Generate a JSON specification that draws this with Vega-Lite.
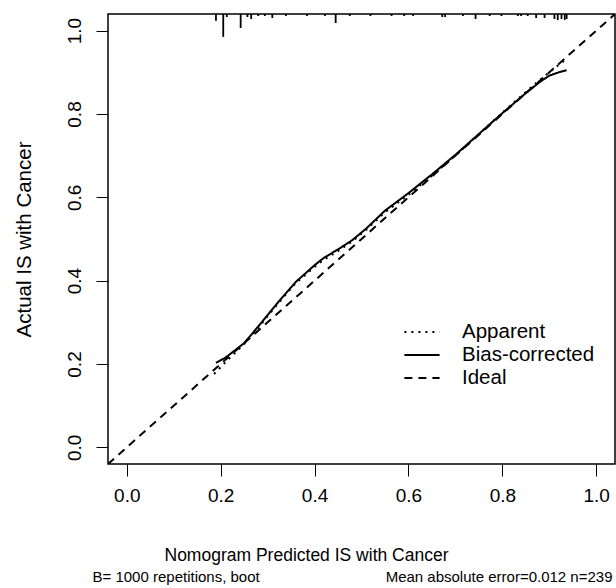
{
  "$schema": "https://vega.github.io/schema/vega-lite/v6.json",
  "width": 507,
  "height": 450,
  "autosize": {"type": "none"},
  "padding": {"left": 108, "top": 14, "right": 1, "bottom": 124},
  "background": "white",
  "config": {
    "font": "Liberation Sans",
    "view": {"stroke": "black", "strokeWidth": 1.5},
    "axis": {"grid": false, "domain": false, "labelColor": "black", "titleColor": "black", "titleFontWeight": "normal", "tickColor": "black", "labelFont": "Liberation Sans", "titleFont": "Liberation Sans"}
  },
  "datasets": {
    "curves": [
      {"x": -0.04, "y": -0.04, "series": "Ideal"},
      {"x": 1.04, "y": 1.04, "series": "Ideal"},
      {"x": 0.186, "y": 0.176, "series": "Apparent"},
      {"x": 0.21, "y": 0.204, "series": "Apparent"},
      {"x": 0.25, "y": 0.248, "series": "Apparent"},
      {"x": 0.28, "y": 0.287, "series": "Apparent"},
      {"x": 0.32, "y": 0.342, "series": "Apparent"},
      {"x": 0.36, "y": 0.394, "series": "Apparent"},
      {"x": 0.40, "y": 0.433, "series": "Apparent"},
      {"x": 0.42, "y": 0.450, "series": "Apparent"},
      {"x": 0.45, "y": 0.471, "series": "Apparent"},
      {"x": 0.48, "y": 0.494, "series": "Apparent"},
      {"x": 0.51, "y": 0.522, "series": "Apparent"},
      {"x": 0.55, "y": 0.564, "series": "Apparent"},
      {"x": 0.60, "y": 0.606, "series": "Apparent"},
      {"x": 0.65, "y": 0.652, "series": "Apparent"},
      {"x": 0.70, "y": 0.700, "series": "Apparent"},
      {"x": 0.75, "y": 0.752, "series": "Apparent"},
      {"x": 0.80, "y": 0.803, "series": "Apparent"},
      {"x": 0.85, "y": 0.853, "series": "Apparent"},
      {"x": 0.88, "y": 0.882, "series": "Apparent"},
      {"x": 0.90, "y": 0.900, "series": "Apparent"},
      {"x": 0.92, "y": 0.918, "series": "Apparent"},
      {"x": 0.937, "y": 0.932, "series": "Apparent"},
      {"x": 0.19, "y": 0.203, "series": "Bias-corrected"},
      {"x": 0.21, "y": 0.215, "series": "Bias-corrected"},
      {"x": 0.25, "y": 0.250, "series": "Bias-corrected"},
      {"x": 0.28, "y": 0.290, "series": "Bias-corrected"},
      {"x": 0.32, "y": 0.345, "series": "Bias-corrected"},
      {"x": 0.36, "y": 0.397, "series": "Bias-corrected"},
      {"x": 0.40, "y": 0.437, "series": "Bias-corrected"},
      {"x": 0.42, "y": 0.455, "series": "Bias-corrected"},
      {"x": 0.45, "y": 0.475, "series": "Bias-corrected"},
      {"x": 0.48, "y": 0.497, "series": "Bias-corrected"},
      {"x": 0.51, "y": 0.525, "series": "Bias-corrected"},
      {"x": 0.55, "y": 0.568, "series": "Bias-corrected"},
      {"x": 0.60, "y": 0.610, "series": "Bias-corrected"},
      {"x": 0.65, "y": 0.655, "series": "Bias-corrected"},
      {"x": 0.70, "y": 0.702, "series": "Bias-corrected"},
      {"x": 0.75, "y": 0.752, "series": "Bias-corrected"},
      {"x": 0.80, "y": 0.802, "series": "Bias-corrected"},
      {"x": 0.85, "y": 0.850, "series": "Bias-corrected"},
      {"x": 0.88, "y": 0.877, "series": "Bias-corrected"},
      {"x": 0.90, "y": 0.892, "series": "Bias-corrected"},
      {"x": 0.92, "y": 0.900, "series": "Bias-corrected"},
      {"x": 0.937, "y": 0.905, "series": "Bias-corrected"}
    ],
    "rug": [
      {"x": 0.190, "yend": 1.024},
      {"x": 0.2055, "yend": 0.985},
      {"x": 0.213, "yend": 1.0328},
      {"x": 0.2426, "yend": 1.0065},
      {"x": 0.257, "yend": 1.0328},
      {"x": 0.265, "yend": 1.028},
      {"x": 0.280, "yend": 1.0352},
      {"x": 0.294, "yend": 1.0352},
      {"x": 0.310, "yend": 1.0304},
      {"x": 0.339, "yend": 1.0352},
      {"x": 0.384, "yend": 1.0352},
      {"x": 0.422, "yend": 1.0352},
      {"x": 0.445, "yend": 1.0184},
      {"x": 0.475, "yend": 1.0352},
      {"x": 0.519, "yend": 1.0352},
      {"x": 0.564, "yend": 1.0352},
      {"x": 0.591, "yend": 1.0352},
      {"x": 0.610, "yend": 1.0352},
      {"x": 0.672, "yend": 1.0328},
      {"x": 0.678, "yend": 1.0328},
      {"x": 0.716, "yend": 1.0352},
      {"x": 0.743, "yend": 1.028},
      {"x": 0.773, "yend": 1.0352},
      {"x": 0.798, "yend": 1.0352},
      {"x": 0.833, "yend": 1.0352},
      {"x": 0.840, "yend": 1.0352},
      {"x": 0.854, "yend": 1.0352},
      {"x": 0.872, "yend": 1.0304},
      {"x": 0.890, "yend": 1.0304},
      {"x": 0.911, "yend": 1.028},
      {"x": 0.918, "yend": 1.0256},
      {"x": 0.926, "yend": 1.028},
      {"x": 0.933, "yend": 1.0256},
      {"x": 0.937, "yend": 1.028}
    ]
  },
  "resolve": {"axis": {"x": "independent", "y": "independent"}},
  "layer": [
    {
      "data": {"name": "curves"},
      "mark": {"type": "line", "strokeWidth": 2, "color": "black", "clip": true},
      "encoding": {
        "x": {
          "field": "x", "type": "quantitative",
          "scale": {"domain": [-0.04, 1.04], "nice": false, "zero": false},
          "axis": {
            "values": [0, 0.2, 0.4, 0.6, 0.8, 1.0], "format": ".1f",
            "tickSize": 12, "tickWidth": 1, "labelFontSize": 19, "labelPadding": 10,
            "title": "Nomogram Predicted IS with Cancer", "titleFontSize": 17.5,
            "titleX": 198, "titleY": 96, "titleAlign": "center", "titleBaseline": "alphabetic"
          }
        },
        "y": {
          "field": "y", "type": "quantitative",
          "scale": {"domain": [-0.04, 1.04], "nice": false, "zero": false},
          "axis": {
            "values": [0, 0.2, 0.4, 0.6, 0.8, 1.0], "format": ".1f",
            "tickSize": 12, "tickWidth": 1, "labelFontSize": 19, "labelPadding": 12,
            "labelAngle": 270, "labelAlign": "center", "labelBaseline": "bottom",
            "title": "Actual IS with Cancer", "titleFontSize": 20.5,
            "titleAngle": 270, "titleX": -84, "titleY": 225, "titleAlign": "center", "titleBaseline": "middle"
          }
        },
        "strokeDash": {
          "field": "series", "type": "nominal",
          "scale": {"domain": ["Apparent", "Bias-corrected", "Ideal"], "range": [[2, 5], [1, 0], [8, 6]]},
          "legend": {
            "title": null, "orient": "none", "legendX": 302, "legendY": 306,
            "symbolType": "M-1.6,0L1.6,0", "symbolSize": 484, "symbolStrokeWidth": 2,
            "symbolStrokeColor": "black", "labelFontSize": 20.5, "labelColor": "black",
            "labelOffset": 28, "rowPadding": -2
          }
        }
      }
    },
    {
      "data": {"name": "rug"},
      "mark": {"type": "rule", "strokeWidth": 1.8, "color": "black"},
      "encoding": {
        "x": {
          "field": "x", "type": "quantitative",
          "scale": {"domain": [-0.04, 1.04], "nice": false, "zero": false},
          "axis": {
            "orient": "top", "labels": false, "ticks": false, "domain": false, "grid": false,
            "title": "B= 1000 repetitions, boot", "titleFontSize": 15, "titleAngle": 0,
            "titleAlign": "left", "titleBaseline": "alphabetic", "titleX": -16, "titleY": 567
          }
        },
        "y": {
          "field": "yend", "type": "quantitative",
          "scale": {"domain": [-0.04, 1.04], "nice": false, "zero": false},
          "axis": {
            "orient": "right", "labels": false, "ticks": false, "domain": false, "grid": false,
            "title": "Mean absolute error=0.012 n=239", "titleFontSize": 15, "titleAngle": 0,
            "titleAlign": "right", "titleBaseline": "alphabetic", "titleX": -3, "titleY": 567
          }
        },
        "y2": {"datum": 1.04}
      }
    }
  ]
}
